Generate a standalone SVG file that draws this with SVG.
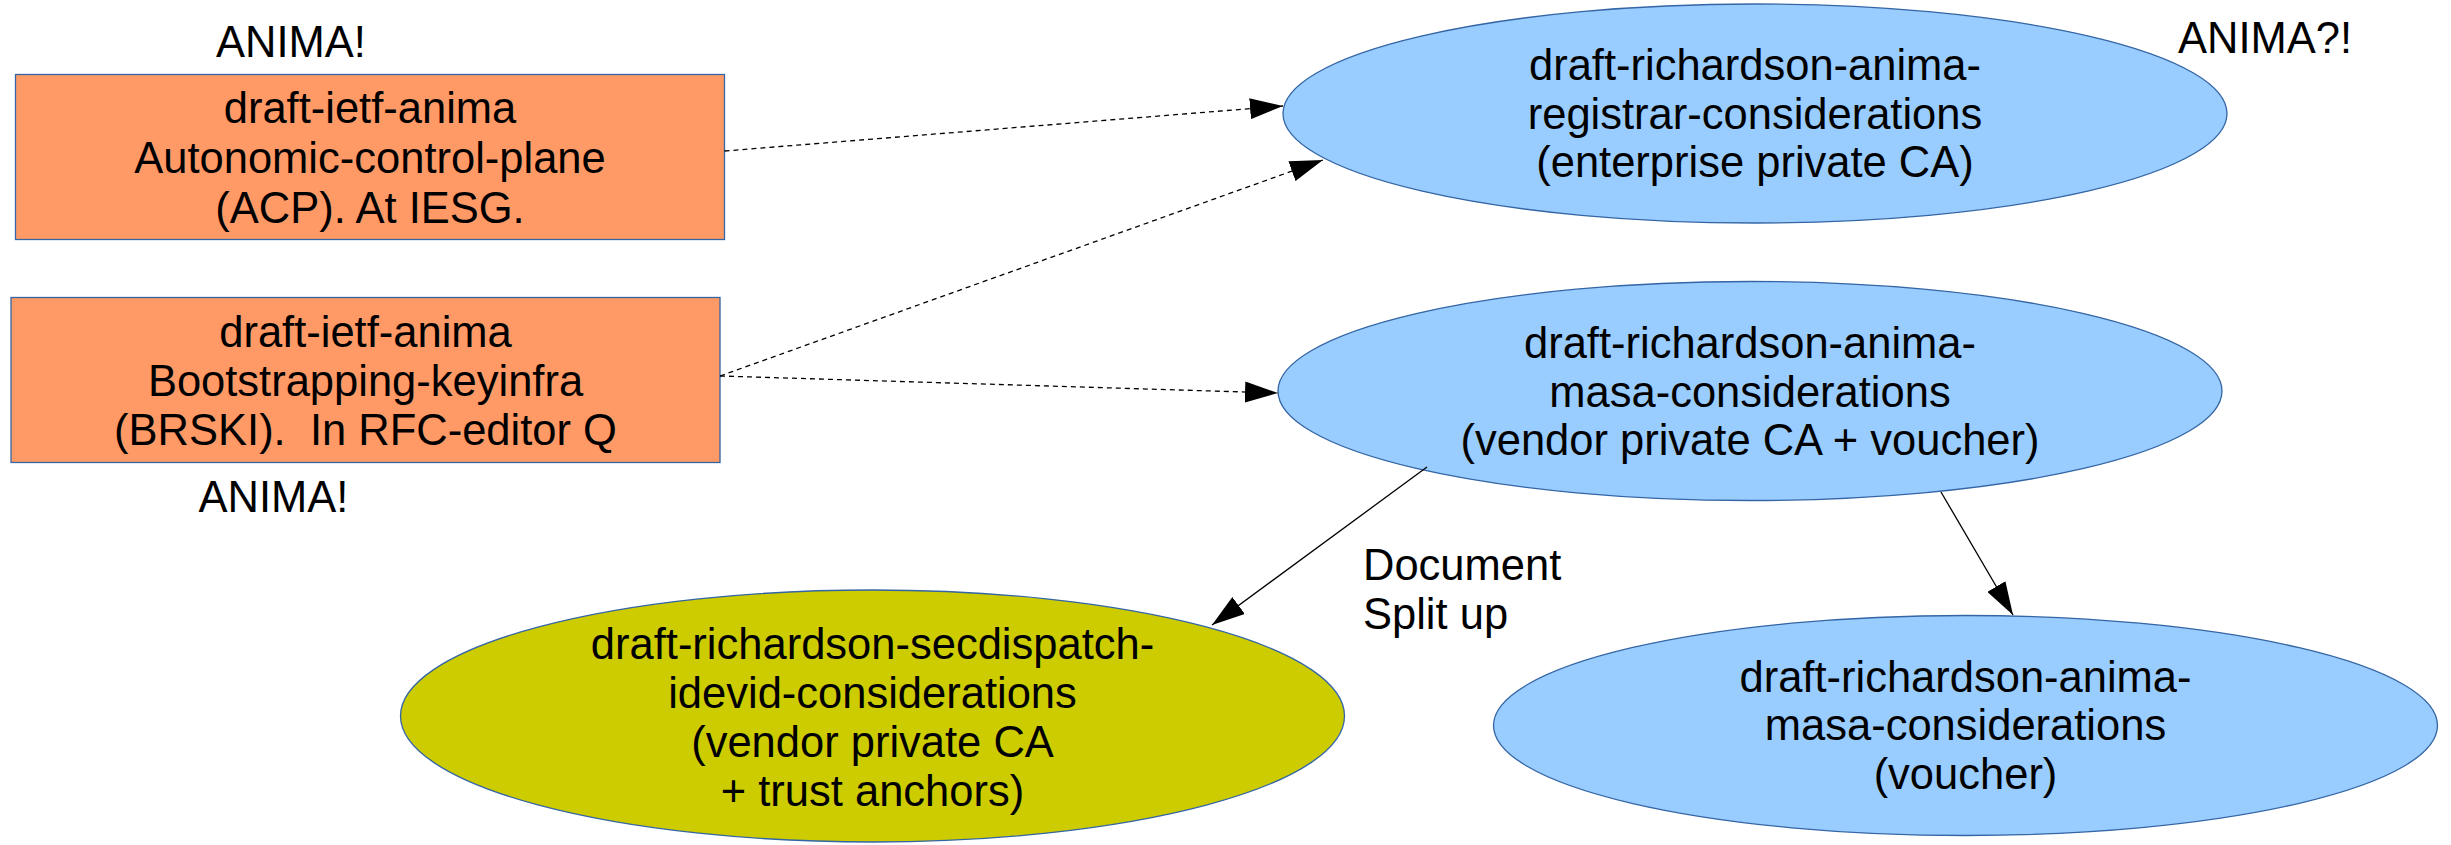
<svg xmlns="http://www.w3.org/2000/svg" width="2451" height="845" viewBox="0 0 2451 845">
<defs>
<style>
text{font-family:"Liberation Sans",Arial,sans-serif;font-size:43.5px;fill:#000}
.c{text-anchor:middle}
.box{fill:#ff9966;stroke:#3465a4;stroke-width:1.3}
.blue{fill:#99ccff;stroke:#3465a4;stroke-width:1.3}
.yel{fill:#cccc00;stroke:#3465a4;stroke-width:1.3}
.dash{fill:none;stroke:#000;stroke-width:1.3;stroke-dasharray:5,4;marker-end:url(#ah)}
.solid{fill:none;stroke:#000;stroke-width:1.3;marker-end:url(#ah)}
</style>
<marker id="ah" viewBox="0 0 33 21" refX="33" refY="10.5" markerWidth="33" markerHeight="21" orient="auto" markerUnits="userSpaceOnUse">
<path d="M0,0 L33,10.5 L0,21 z" fill="#000"/>
</marker>
</defs>
<rect width="2451" height="845" fill="#fff"/>

<g id="n-acp">
<rect class="box" x="15.5" y="74.5" width="709" height="165"/>
<text class="c" x="370" y="123">draft-ietf-anima</text>
<text class="c" x="370" y="173">Autonomic-control-plane</text>
<text class="c" x="370" y="222.5">(ACP). At IESG.</text>
</g>

<g id="n-brski">
<rect class="box" x="11" y="297.5" width="709" height="165"/>
<text class="c" x="365.5" y="347">draft-ietf-anima</text>
<text class="c" x="365.5" y="396">Bootstrapping-keyinfra</text>
<text class="c" x="365.5" y="445" xml:space="preserve">(BRSKI).  In RFC-editor Q</text>
</g>

<g id="n-registrar">
<ellipse class="blue" cx="1755" cy="113.5" rx="472" ry="109.5"/>
<text class="c" x="1755" y="80">draft-richardson-anima-</text>
<text class="c" x="1755" y="128.5">registrar-considerations</text>
<text class="c" x="1755" y="177">(enterprise private CA)</text>
</g>

<g id="n-masa1">
<ellipse class="blue" cx="1750" cy="391" rx="472" ry="109.5"/>
<text class="c" x="1750" y="358">draft-richardson-anima-</text>
<text class="c" x="1750" y="406.5">masa-considerations</text>
<text class="c" x="1750" y="455">(vendor private CA + voucher)</text>
</g>

<g id="n-idevid">
<ellipse class="yel" cx="872.5" cy="716" rx="472" ry="126"/>
<text class="c" x="872.5" y="658.5">draft-richardson-secdispatch-</text>
<text class="c" x="872.5" y="708">idevid-considerations</text>
<text class="c" x="872.5" y="757">(vendor private CA</text>
<text class="c" x="872.5" y="805.5">+ trust anchors)</text>
</g>

<g id="n-masa2">
<ellipse class="blue" cx="1965.5" cy="725.5" rx="472" ry="110"/>
<text class="c" x="1965.5" y="691.5">draft-richardson-anima-</text>
<text class="c" x="1965.5" y="740">masa-considerations</text>
<text class="c" x="1965.5" y="788.5">(voucher)</text>
</g>

<g id="labels">
<text class="c" x="291" y="57">ANIMA!</text>
<text class="c" x="273.5" y="512">ANIMA!</text>
<text x="2178" y="52.5">ANIMA?!</text>
<text x="1363" y="580">Document</text>
<text x="1363" y="629">Split up</text>
</g>

<g id="connectors">
<path class="dash" d="M724.5,151 L1283,106"/>
<path class="dash" d="M720,376 L1323,160"/>
<path class="dash" d="M720,376 L1278,393"/>
<path class="solid" d="M1427,467 L1212,625"/>
<path class="solid" d="M1941,492 L2013,615"/>
</g>
</svg>
